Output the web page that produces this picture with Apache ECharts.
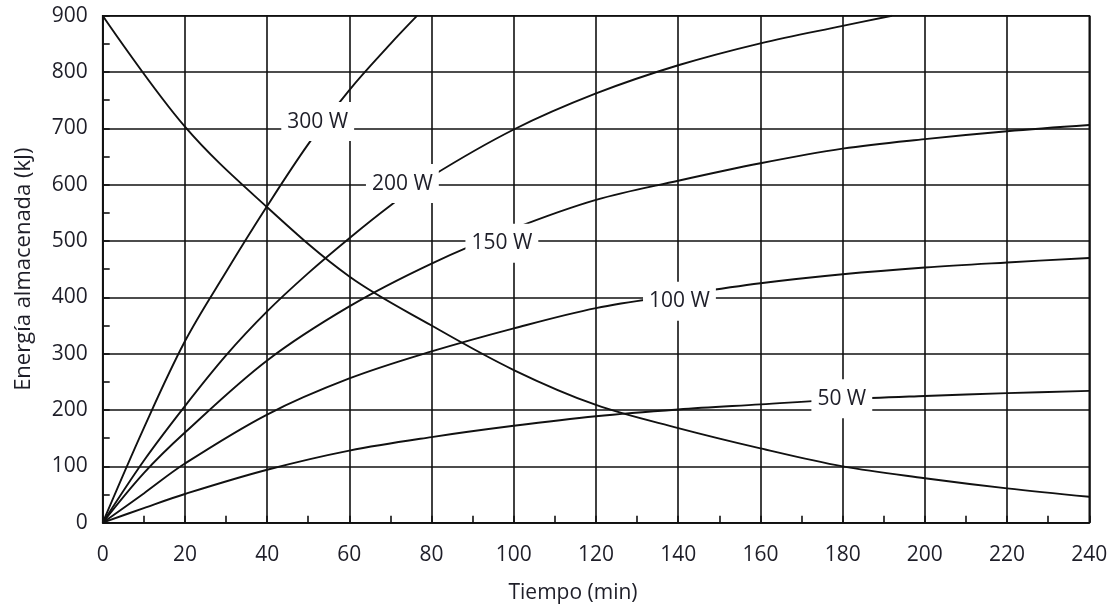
<!DOCTYPE html>
<html>
<head>
<meta charset="utf-8">
<script src="https://cdn.jsdelivr.net/npm/echarts@6/dist/echarts.min.js"></script>
<style>
html,body{margin:0;padding:0;background:#fff;}
#chart{width:1114px;height:611px;}
</style>
</head>
<body>
<div id="chart"></div>
<script>
// ---- data ----
var xTicks = [0,20,40,60,80,100,120,140,160,180,200,220,240];
var yTicks = [0,100,200,300,400,500,600,700,800,900];

var t50  = [0,10,20,40,60,80,100,120,140,160,180,200,220,240];
var e50  = [0,26,51,94,128,152,172,189,201,210,219,225,230,234];

var t100 = [0,10,20,40,60,80,100,120,140,160,180,200,220,240];
var e100 = [0,52,105,192,256,304,345,381,404,425,441,453,462,470];

var t150 = [0,10,20,40,60,80,100,120,140,160,180,200,220,240];
var e150 = [0,88,160,288,384,460,522,573,607,638,664,681,695,706];

var t200 = [0,10,20,30,40,50,60,70,80,100,120,140,160,180,192];
var e200 = [0,110,207,297,375,443,505,563,615,698,762,812,851,882,900];

var t300 = [0,10,20,30,40,50,60,70,76.5];
var e300 = [0,168,322,445,562,672,768,850,900];

var tDec = [0,20,40,60,80,100,120,140,160,180,200,220,240];
var eDec = [900,703,560,437,350,271,209,168,132,100,79,61,46];

var labelText = ['300 W','200 W','150 W','100 W','50 W'];
var labelT    = [52.3, 72.9, 97.1, 140.3, 179.8];
var labelE    = [712, 602, 496, 393, 220];

var xName = 'Tiempo (min)';
var yName = 'Energía almacenada (kJ)';

function zip(a, b){ return a.map(function(v,i){ return [v, b[i]]; }); }

var FONT = '"Open Sans", "Noto Sans", sans-serif';
var TXT = '#1e1e28';

function curve(name, t, e){
  return {
    name: name, type: 'line', data: zip(t, e),
    smooth: 0.35, symbol: 'none', clip: true,
    lineStyle: {color: '#111', width: 1.9}, z: 3, silent: true
  };
}

var chart = echarts.init(document.getElementById('chart'), null, {renderer: 'canvas'});
chart.setOption({
  backgroundColor: '#fff',
  animation: false,
  grid: {left: 102.7, right: 24.7, top: 15.7, bottom: 88.3, show: true,
         borderColor: '#111', borderWidth: 1.6, containLabel: false},
  xAxis: {
    type: 'value', min: 0, max: 240, interval: 20,
    name: xName, nameLocation: 'middle', nameGap: 60,
    nameTextStyle: {fontFamily: FONT, fontSize: 21, color: TXT, padding: [0, 46, 0, 0]},
    axisLine: {show: true, lineStyle: {color: '#111', width: 1.6}},
    axisTick: {show: true, inside: true, length: 7, lineStyle: {color: '#111', width: 1.6}},
    minorTick: {show: true, splitNumber: 2, length: 7, lineStyle: {color: '#111', width: 1.6}},
    splitLine: {show: true, lineStyle: {color: '#111', width: 1.6}},
    axisLabel: {fontFamily: FONT, fontSize: 21, color: TXT, margin: 22,
      customValues: xTicks}
  },
  yAxis: {
    type: 'value', min: 0, max: 900, interval: 100,
    name: yName, nameLocation: 'middle', nameGap: 68,
    nameTextStyle: {fontFamily: FONT, fontSize: 22, color: TXT},
    axisLine: {show: true, lineStyle: {color: '#111', width: 1.6}},
    axisTick: {show: true, inside: true, length: 7, lineStyle: {color: '#111', width: 1.6}},
    minorTick: {show: true, splitNumber: 2, length: 7, lineStyle: {color: '#111', width: 1.6}},
    splitLine: {show: true, lineStyle: {color: '#111', width: 1.6}},
    axisLabel: {fontFamily: FONT, fontSize: 21, color: TXT, margin: 15,
      customValues: yTicks}
  },
  series: [
    curve('Descarga', tDec, eDec),
    curve('50 W', t50, e50),
    curve('100 W', t100, e100),
    curve('150 W', t150, e150),
    curve('200 W', t200, e200),
    curve('300 W', t300, e300),
    {
      name: 'etiquetas', type: 'scatter', symbolSize: 0, z: 10, silent: true,
      itemStyle: {color: '#fff', opacity: 1},
      data: labelT.map(function(t, i){ return {value: [t, labelE[i]], name: labelText[i]}; }),
      label: {
        show: true, position: 'inside', formatter: function(p){ return p.name; },
        fontFamily: FONT, fontSize: 21, color: TXT, lineHeight: 21,
        backgroundColor: '#fff', padding: [9, 6, 9, 6]
      }
    }
  ]
});
</script>
</body>
</html>
